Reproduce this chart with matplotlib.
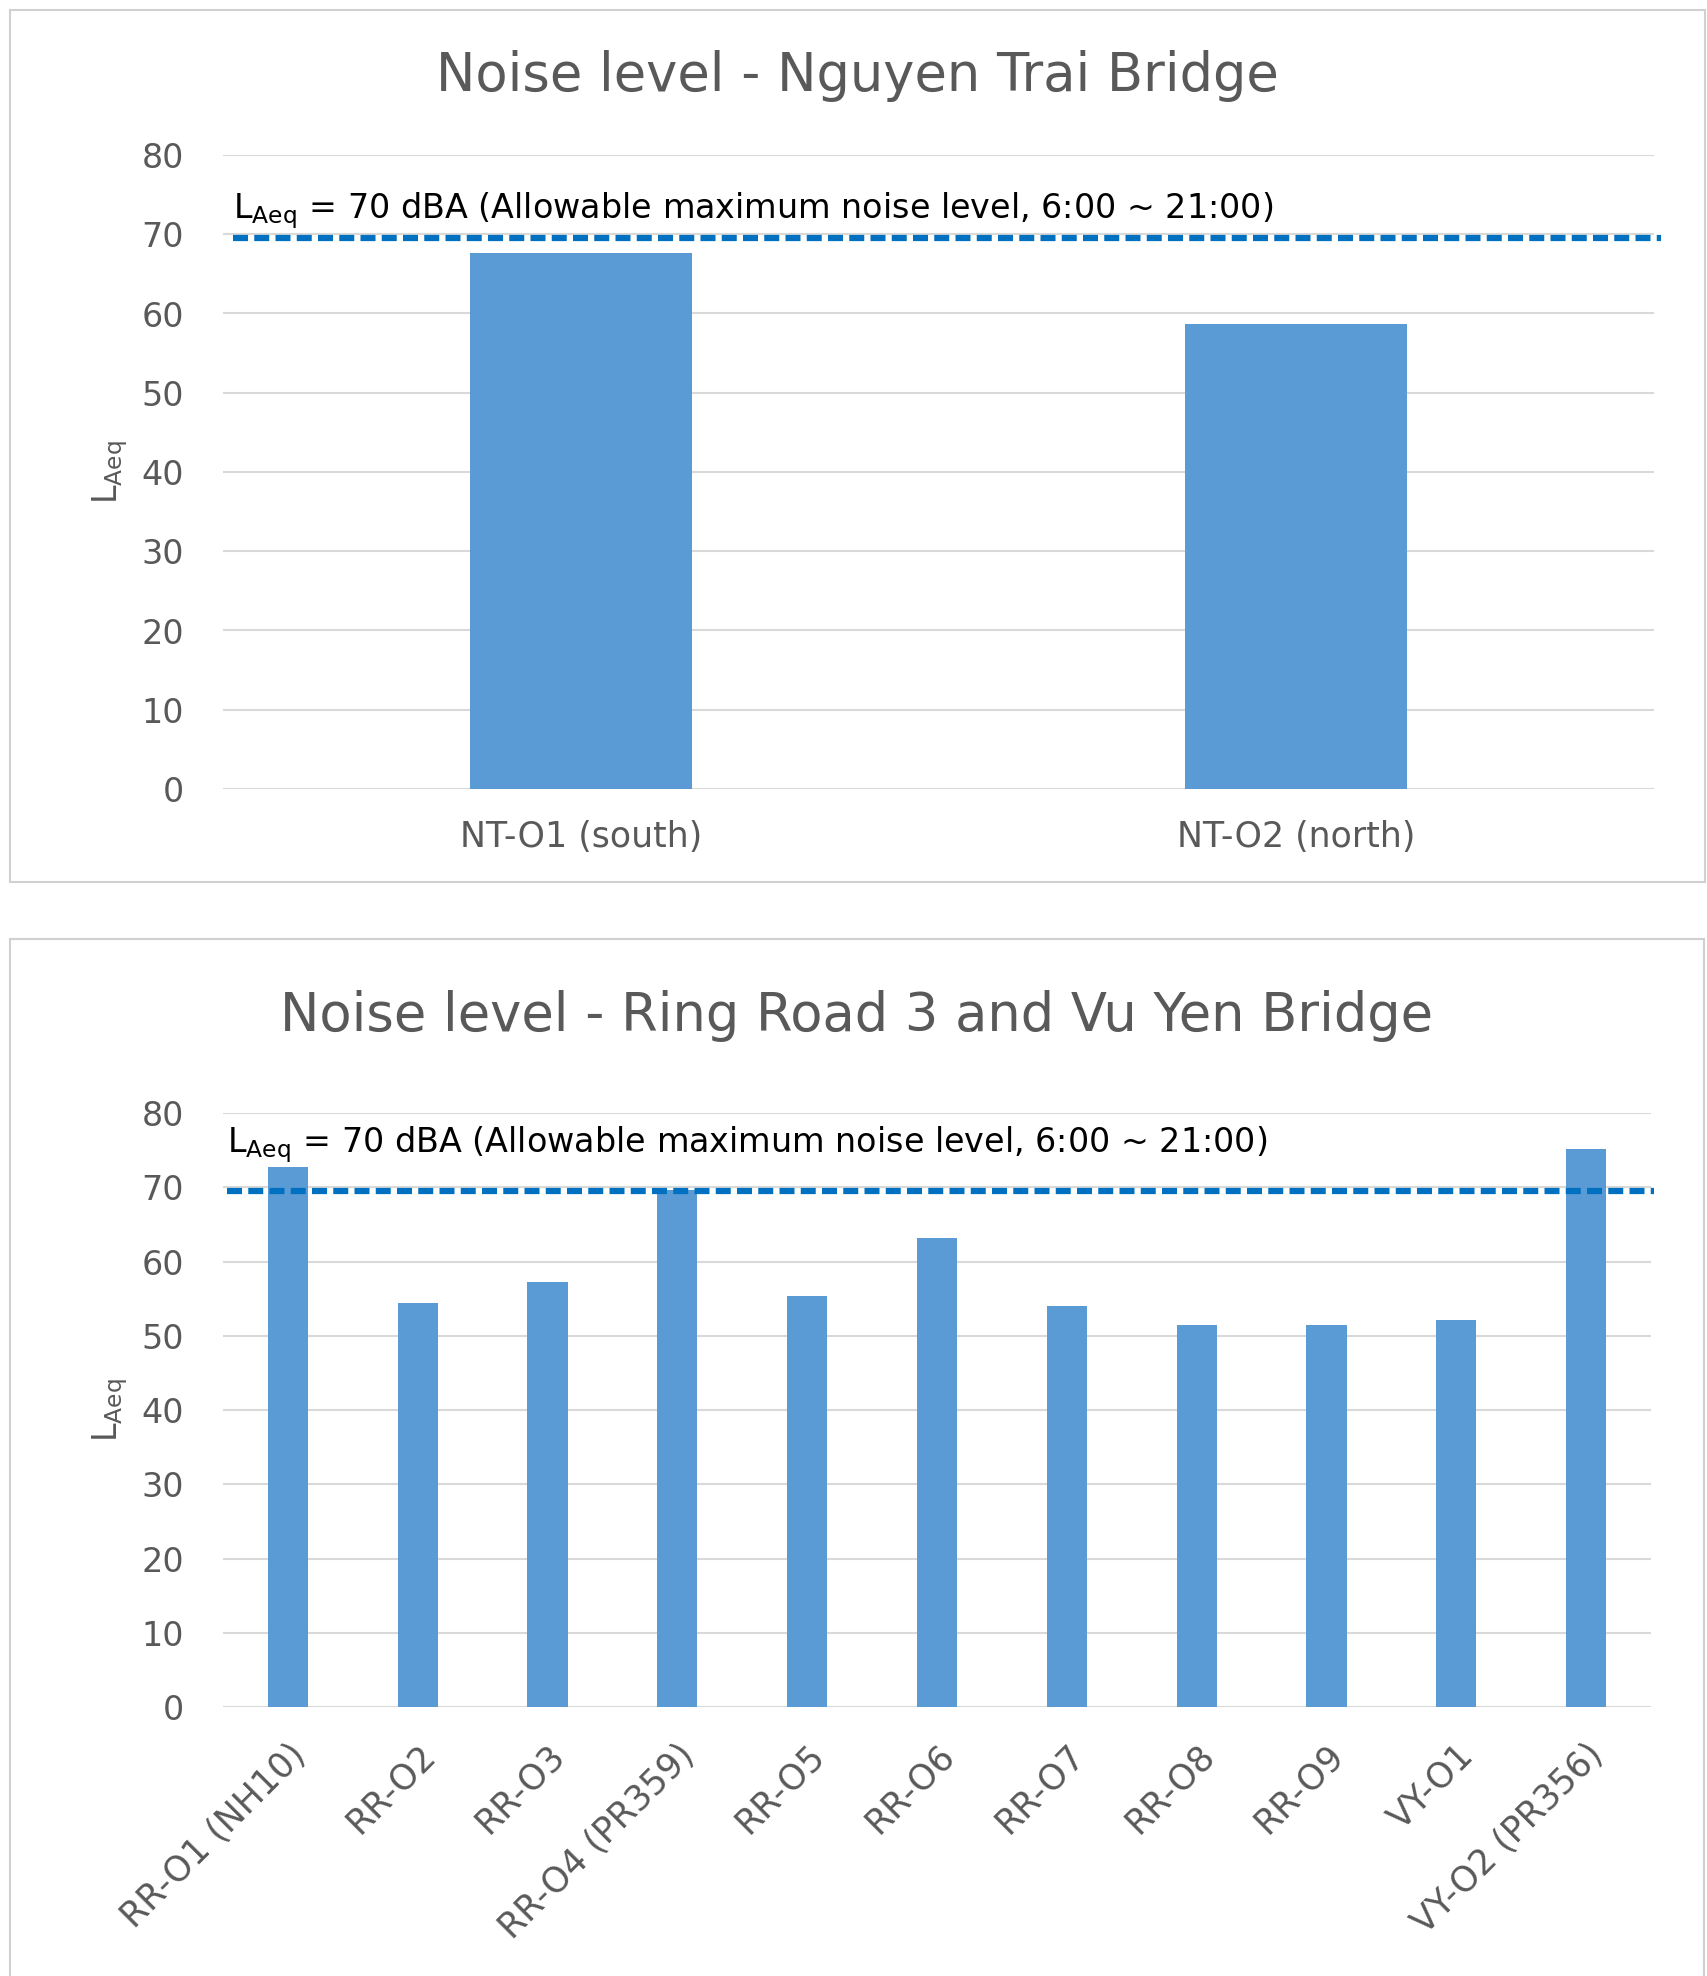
import matplotlib.pyplot as plt
from matplotlib.patches import Rectangle

# --- Data ---
NT_SITES = ["NT-O1 (south)", "NT-O2 (north)"]
NT_LAEQ = [67.6, 58.7]

RR_SITES = ["RR-O1 (NH10)", "RR-O2", "RR-O3", "RR-O4 (PR359)", "RR-O5", "RR-O6",
            "RR-O7", "RR-O8", "RR-O9", "VY-O1", "VY-O2 (PR356)"]
RR_LAEQ = [72.7, 54.4, 57.2, 69.6, 55.4, 63.2, 54.0, 51.5, 51.5, 52.1, 75.2]

LIMIT_DRAWN = 69.5   # where the dashed limit line sits in the picture
Y_TICKS = [0, 10, 20, 30, 40, 50, 60, 70, 80]

BAR_COLOR = "#5B9BD5"
LINE_COLOR = "#0070C0"
TEXT_COLOR = "#595959"
GRID_COLOR = "#D9D9D9"

FONT = "DejaVu Sans"
plt.rcParams["font.family"] = [FONT]
plt.rcParams["mathtext.fontset"] = "custom"
plt.rcParams["mathtext.rm"] = FONT
plt.rcParams["mathtext.it"] = FONT

W, H = 1708, 1976
fig = plt.figure(figsize=(W / 100, H / 100), dpi=100)

# chart frames
for (x0, y0, x1, y1) in [(10, 10, 1705, 882), (10, 939, 1704, 1990)]:
    fig.patches.append(Rectangle((x0 / W, 1 - y1 / H), (x1 - x0) / W, (y1 - y0) / H,
                                 transform=fig.transFigure, fill=False,
                                 edgecolor="#D0D0D0", linewidth=1.5))

LABEL = r"$\mathrm{L_{Aeq}}$ = 70 dBA (Allowable maximum noise level, 6:00 ~ 21:00)"
TICK_SIZE = 24
XLAB_SIZE = 25
NOTE_SIZE = 24
TITLE_SIZE = 38


def style_axes(ax):
    ax.set_ylim(0, 80)
    ax.set_yticks(Y_TICKS)
    ax.grid(axis="y", color=GRID_COLOR, linewidth=1.5)
    ax.set_axisbelow(True)
    for s in ax.spines.values():
        s.set_visible(False)
    ax.tick_params(axis="y", length=0, pad=28, labelsize=TICK_SIZE, labelcolor=TEXT_COLOR)
    ax.tick_params(axis="x", length=0, labelsize=XLAB_SIZE, labelcolor=TEXT_COLOR)
    ax.set_ylabel(r"$\mathrm{L_{Aeq}}$", fontsize=24, color=TEXT_COLOR)
    ax.yaxis.set_label_coords(-0.065, 0.5)


# --- Top chart ---
ax1 = fig.add_axes([223 / W, 1 - 789 / H, (1654 - 223) / W, (789 - 155) / H])
x1 = range(len(NT_SITES))
ax1.bar(x1, NT_LAEQ, width=0.31, color=BAR_COLOR, zorder=2)
ax1.set_xlim(-0.5, len(NT_SITES) - 0.5)
ax1.set_xticks(list(x1))
ax1.set_xticklabels(NT_SITES)
style_axes(ax1)
ax1.tick_params(axis="x", pad=22)
ax1.plot([0.007, 1.005], [LIMIT_DRAWN, LIMIT_DRAWN], transform=ax1.get_yaxis_transform(),
         color=LINE_COLOR, linewidth=4.5, dashes=(2.4, 1.0), clip_on=False, zorder=3)
ax1.text(0.007, 73.0, LABEL, transform=ax1.get_yaxis_transform(), fontsize=NOTE_SIZE,
         color="black", va="center", ha="left")
fig.text(857 / W, 1 - 76 / H, "Noise level - Nguyen Trai Bridge", fontsize=TITLE_SIZE,
         color=TEXT_COLOR, ha="center", va="center")

# --- Bottom chart ---
ax2 = fig.add_axes([223 / W, 1 - 1707 / H, (1651 - 223) / W, (1707 - 1113) / H])
x2 = range(len(RR_SITES))
ax2.bar(x2, RR_LAEQ, width=0.31, color=BAR_COLOR, zorder=2)
ax2.set_xlim(-0.5, len(RR_SITES) - 0.5)
ax2.set_xticks(list(x2))
ax2.set_xticklabels(RR_SITES, rotation=45, ha="right", rotation_mode="anchor")
style_axes(ax2)
ax2.tick_params(axis="x", pad=22)
ax2.plot([0.003, 1.002], [LIMIT_DRAWN, LIMIT_DRAWN], transform=ax2.get_yaxis_transform(),
         color=LINE_COLOR, linewidth=4.5, dashes=(2.4, 1.0), clip_on=False, zorder=3)
ax2.text(0.003, 75.8, LABEL, transform=ax2.get_yaxis_transform(), fontsize=NOTE_SIZE,
         color="black", va="center", ha="left", zorder=1)
fig.text(857 / W, 1 - 1016 / H, "Noise level - Ring Road 3 and Vu Yen Bridge", fontsize=TITLE_SIZE,
         color=TEXT_COLOR, ha="center", va="center")

fig.savefig("out.png", dpi=100, facecolor="white")
